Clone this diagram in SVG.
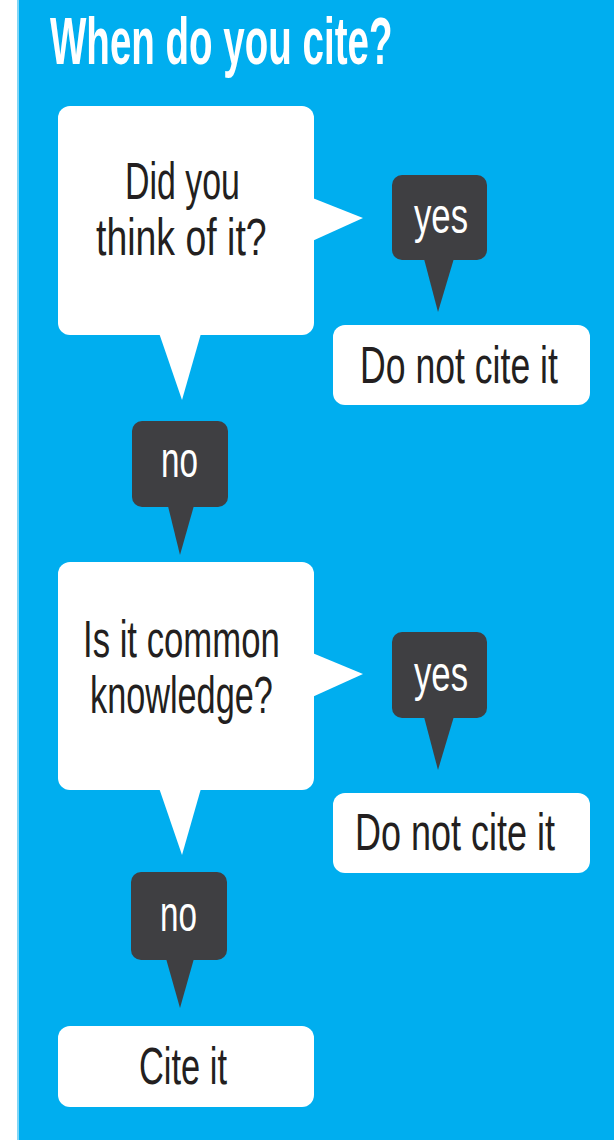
<svg xmlns="http://www.w3.org/2000/svg" width="614" height="1140" viewBox="0 0 614 1140">
<style>
.bg{fill:#00aeef}
.w{fill:#ffffff}
.d{fill:#3f3f42}
.t{font-family:"Liberation Sans",Arial,sans-serif;font-size:52px;fill:#231f20}
.tw{font-family:"Liberation Sans",Arial,sans-serif;font-size:50px;fill:#ffffff}
.title{font-family:"Liberation Sans",Arial,sans-serif;font-size:66px;font-weight:bold;fill:#ffffff}
</style>
<rect x="0" y="0" width="614" height="1140" fill="#ffffff"/>
<rect x="17" y="0" width="3" height="1140" fill="#7fd6f7"/>
<rect class="bg" x="19" y="0" width="595" height="1140"/>
<text class="title" transform="translate(50,64) scale(0.584,1)">When do you cite?</text>
<g id="connectors">
<polygon class="w" points="310,197 363,218 310,242"/>
<polygon class="w" points="158,330 182,400 202,330"/>
<polygon class="d" points="423,255 438,312 455,255"/>
<polygon class="d" points="167,502 180,555 195,502"/>
<polygon class="w" points="310,652 363,674 310,698"/>
<polygon class="w" points="158,785 182,855 202,785"/>
<polygon class="d" points="423,713 438,770 455,713"/>
<polygon class="d" points="165,955 180,1008 195,955"/>
</g>
<g id="q1">
<rect class="w" x="58" y="106" width="256" height="229" rx="12"/>
<text class="t" transform="translate(125,199) scale(0.652,1)">Did you</text>
<text class="t" transform="translate(96,255) scale(0.72,1)">think of it?</text>
</g>
<g id="yes1">
<rect class="d" x="392" y="175" width="95" height="85" rx="10"/>
<text class="tw" transform="translate(414,233) scale(0.694,1)">yes</text>
</g>
<g id="nocite1">
<rect class="w" x="333" y="325" width="257" height="80" rx="12"/>
<text class="t" transform="translate(360,383) scale(0.685,1)">Do not cite it</text>
</g>
<g id="no1">
<rect class="d" x="132" y="421" width="96" height="86" rx="10"/>
<text class="tw" transform="translate(161,477) scale(0.665,1)">no</text>
</g>
<g id="q2">
<rect class="w" x="58" y="562" width="256" height="228" rx="12"/>
<text class="t" transform="translate(83,657) scale(0.668,1)">Is it common</text>
<text class="t" transform="translate(90,713) scale(0.659,1)">knowledge?</text>
</g>
<g id="yes2">
<rect class="d" x="392" y="632" width="95" height="86" rx="10"/>
<text class="tw" transform="translate(414,691) scale(0.694,1)">yes</text>
</g>
<g id="nocite2">
<rect class="w" x="333" y="793" width="257" height="80" rx="12"/>
<text class="t" transform="translate(355,850) scale(0.692,1)">Do not cite it</text>
</g>
<g id="no2">
<rect class="d" x="131" y="872" width="96" height="88" rx="10"/>
<text class="tw" transform="translate(160,931) scale(0.665,1)">no</text>
</g>
<g id="cite">
<rect class="w" x="58" y="1026" width="256" height="81" rx="12"/>
<text class="t" transform="translate(139,1084) scale(0.662,1)">Cite it</text>
</g>
</svg>
